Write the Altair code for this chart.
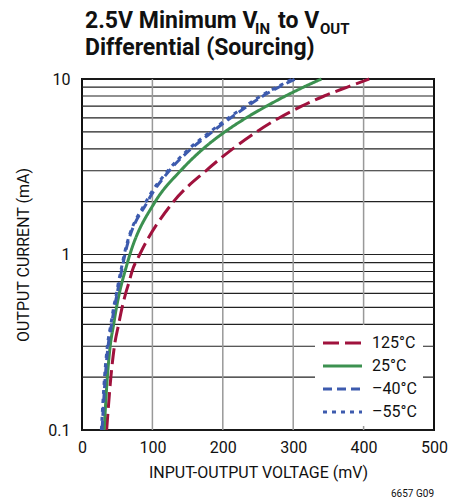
import altair as alt
import pandas as pd

# Output current (mA) at which each curve was read
currents = [0.1, 0.2, 0.3, 0.4, 0.5, 0.6, 0.7, 0.8, 1, 2, 3, 4, 5, 6, 7, 8, 9, 10]

# Minimum input-output voltage (mV) per temperature
v_125 = [35, 41, 46, 52, 57, 62, 67, 71, 82, 130, 176, 214, 248, 280, 312, 344, 377, 408]
v_25 = [31.5, 36, 40, 45, 49, 53, 57, 61, 68, 104, 140, 172, 203, 233, 262, 289, 315, 340]
v_m40 = [28.5, 33, 37, 42, 46, 50, 53, 56, 61, 93, 124, 155, 185, 211, 235, 257, 280, 303]
v_m55 = [27.5, 32, 36, 41, 45, 49, 52, 55, 60, 91, 122, 152, 182, 208, 232, 254, 277, 299]

temps = ["125°C", "25°C", "–40°C", "–55°C"]
colors = ["#A0123D", "#3C9150", "#3D5BAE", "#3D5BAE"]
dashes = [[16, 6], [1, 0], [9, 5], [4, 5]]
series = [v_125, v_25, v_m40, v_m55]

rows = []
for t, vals in zip(temps, series):
    for i, v in zip(currents, vals):
        rows.append({"temp": t, "mv": v, "ma": i})
df = pd.DataFrame(rows)

FONT = "Roboto"
W, H = 352, 351

y_grid = [0.1, 0.2, 0.3, 0.4, 0.5, 0.6, 0.7, 0.8, 0.9,
          1, 2, 3, 4, 5, 6, 7, 8, 9, 10]

# horizontal decade / minor grid lines
hgrid = alt.Chart(pd.DataFrame({"g": y_grid})).mark_rule(
    color="#222", strokeWidth=1.2
).encode(y=alt.Y("g:Q", scale=alt.Scale(type="log", domain=[0.1, 10])))

# vertical grid lines
vgrid = alt.Chart(pd.DataFrame({"g": [100, 200, 300, 400]})).mark_rule(
    color="#999", strokeWidth=1.5
).encode(x=alt.X("g:Q", scale=alt.Scale(domain=[0, 500])))

lines = alt.Chart(df).mark_line(strokeWidth=3, interpolate="monotone").encode(
    x=alt.X(
        "mv:Q",
        scale=alt.Scale(domain=[0, 500], nice=False),
        axis=alt.Axis(
            values=[0, 100, 200, 300, 400, 500],
            title="INPUT-OUTPUT VOLTAGE (mV)",
            grid=False, domain=False, ticks=False, labelFlush=False,
            labelFont=FONT, labelFontSize=16, labelColor="#111",
            labelPadding=9, titleFont=FONT, titleFontSize=16,
            titleFontWeight="normal", titleColor="#111", titlePadding=9,
        ),
    ),
    y=alt.Y(
        "ma:Q",
        scale=alt.Scale(type="log", domain=[0.1, 10]),
        axis=alt.Axis(
            values=[0.1, 1, 10],
            labelExpr="datum.value < 0.5 ? '0.1' : datum.value < 5 ? '1' : '10'",
            title="OUTPUT CURRENT (mA)",
            grid=False, domain=False, ticks=False, labelFlush=False,
            labelFont=FONT, labelFontSize=16, labelColor="#111",
            labelPadding=12, titleFont=FONT, titleFontSize=16,
            titleFontWeight="normal", titleColor="#111", titlePadding=16,
        ),
    ),
    color=alt.Color(
        "temp:N", sort=temps,
        scale=alt.Scale(domain=temps, range=colors), legend=None,
    ),
    strokeDash=alt.StrokeDash(
        "temp:N", sort=temps,
        scale=alt.Scale(domain=temps, range=dashes), legend=None,
    ),
    order=alt.Order("mv:Q"),
)

one = pd.DataFrame({"a": [0]})


def label(text, x, y, size, weight="bold", align="left", color="#111",
          baseline="alphabetic"):
    return alt.Chart(one).mark_text(
        text=text, font=FONT, fontSize=size, fontWeight=weight,
        align=align, baseline=baseline, color=color,
    ).encode(x=alt.value(x), y=alt.value(y))


# legend box in the lower-right corner of the plot
legend = [
    alt.Chart(one).mark_rect(color="white").encode(
        x=alt.value(233), x2=alt.value(341), y=alt.value(246), y2=alt.value(347)
    )
]
for k, (t, c, d) in enumerate(zip(temps, colors, dashes)):
    ry = 264 + k * 23
    legend.append(
        alt.Chart(one).mark_rule(color=c, strokeDash=d, strokeWidth=3).encode(
            x=alt.value(241), x2=alt.value(280), y=alt.value(ry)
        )
    )
    legend.append(label(t, 290, ry, 16, weight="normal", baseline="middle"))

title = [
    label("2.5V Minimum V", 3, -51, 23),
    label("IN", 173, -45, 15),
    label("to V", 196, -51, 23),
    label("OUT", 238, -45, 15),
    label("Differential (Sourcing)", 3, -24, 23),
]
note = label("6657 G09", 352, 418, 10, weight="normal", align="right")

chart = alt.layer(hgrid, vgrid, lines, *legend, *title, note).properties(
    width=W, height=H,
    padding={"left": 82, "top": 79, "right": 31, "bottom": 70},
    autosize=alt.AutoSizeParams(type="none"),
).configure_view(
    stroke="#111", strokeWidth=2
)

chart.save("out.html", embed_options={"renderer": "svg", "actions": False})
